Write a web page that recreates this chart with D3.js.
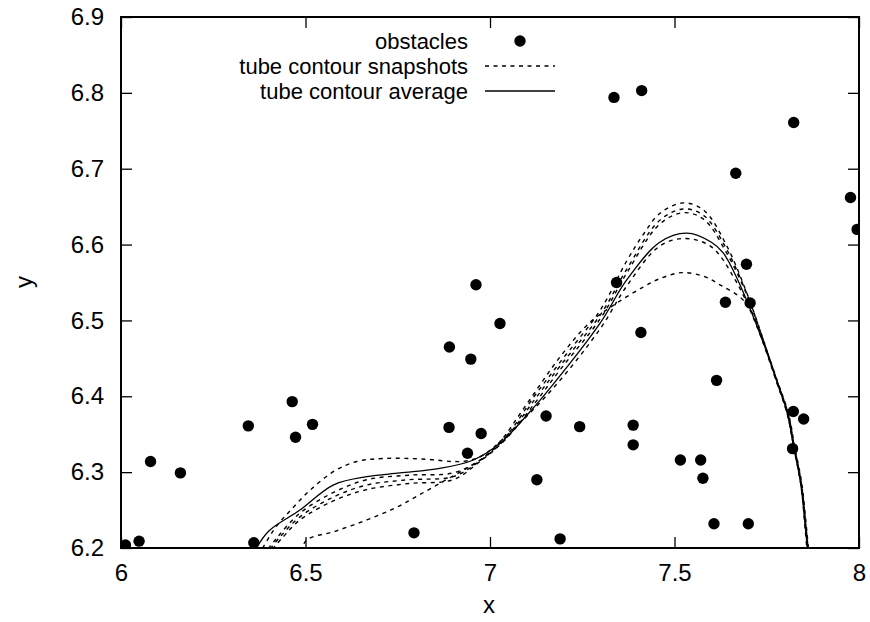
<!DOCTYPE html>
<html>
<head>
<meta charset="utf-8">
<script src="https://cdn.jsdelivr.net/npm/d3@7"></script>
<style>
  body { margin: 0; background: #fff; }
  svg text { font-family: "Liberation Sans", Arial, sans-serif; fill: #000; }
</style>
</head>
<body>
<svg id="chart" width="870" height="622"></svg>
<script>
// obstacles (x, y)
const obstacles = [
  [6.012, 6.204], [6.049, 6.209], [6.080, 6.314], [6.161, 6.299],
  [6.345, 6.361], [6.360, 6.207], [6.464, 6.393], [6.473, 6.346],
  [6.519, 6.363], [6.794, 6.220], [6.889, 6.359], [6.890, 6.465],
  [6.939, 6.325], [6.948, 6.449], [6.962, 6.547], [6.976, 6.351],
  [7.027, 6.496], [7.127, 6.290], [7.152, 6.374], [7.190, 6.212],
  [7.243, 6.360], [7.336, 6.794], [7.343, 6.550], [7.388, 6.362],
  [7.388, 6.336], [7.409, 6.484], [7.411, 6.803], [7.516, 6.316],
  [7.571, 6.316], [7.577, 6.292], [7.607, 6.232], [7.614, 6.421],
  [7.638, 6.524], [7.666, 6.694], [7.695, 6.574], [7.700, 6.232],
  [7.705, 6.523], [7.820, 6.331], [7.822, 6.380], [7.823, 6.761],
  [7.850, 6.370], [7.977, 6.662], [7.995, 6.620]
];

// tube contour snapshots
const snapA = [
  [6.372, 6.19], [6.42, 6.228], [6.46, 6.25], [6.512, 6.276], [6.58, 6.302],
  [6.639, 6.314], [6.711, 6.318], [6.828, 6.317], [6.90, 6.314], [6.94, 6.315],
  [6.98, 6.322], [7.04, 6.346], [7.17, 6.41], [7.30, 6.49], [7.37, 6.545],
  [7.46, 6.598], [7.53, 6.608], [7.60, 6.597], [7.665, 6.553], [7.72, 6.496],
  [7.776, 6.42], [7.806, 6.376], [7.823, 6.333], [7.842, 6.285], [7.857, 6.22],
  [7.864, 6.19]
];
const snapB = [
  [6.385, 6.19], [6.42, 6.212], [6.485, 6.246], [6.575, 6.273], [6.666, 6.290],
  [6.78, 6.296], [6.9, 6.299], [6.97, 6.315], [7.04, 6.345], [7.12, 6.40],
  [7.19, 6.445], [7.298, 6.513], [7.37, 6.578], [7.415, 6.613], [7.46, 6.641],
  [7.524, 6.655], [7.58, 6.645], [7.642, 6.598], [7.696, 6.536], [7.73, 6.49],
  [7.778, 6.42], [7.808, 6.377], [7.825, 6.333], [7.844, 6.285], [7.858, 6.22],
  [7.864, 6.19]
];
const snapC = [
  [6.39, 6.19], [6.43, 6.214], [6.485, 6.241], [6.575, 6.267], [6.666, 6.283],
  [6.78, 6.290], [6.9, 6.294], [6.97, 6.314], [7.04, 6.343], [7.12, 6.395],
  [7.19, 6.44], [7.30, 6.508], [7.37, 6.567], [7.46, 6.632], [7.525, 6.647],
  [7.58, 6.638], [7.64, 6.595], [7.696, 6.535], [7.73, 6.489], [7.777, 6.42],
  [7.807, 6.377], [7.824, 6.333], [7.843, 6.285], [7.857, 6.22], [7.863, 6.19]
];
const snapD = [
  [6.395, 6.19], [6.44, 6.215], [6.485, 6.237], [6.575, 6.262], [6.666, 6.277],
  [6.78, 6.285], [6.9, 6.290], [6.97, 6.313], [7.04, 6.342], [7.12, 6.39],
  [7.19, 6.435], [7.30, 6.503], [7.37, 6.562], [7.46, 6.627], [7.525, 6.642],
  [7.58, 6.633], [7.64, 6.59], [7.696, 6.534], [7.73, 6.488], [7.779, 6.42],
  [7.809, 6.377], [7.826, 6.333], [7.845, 6.285], [7.859, 6.22], [7.865, 6.19]
];
const snapE = [
  [6.488, 6.195], [6.503, 6.2105], [6.58, 6.222], [6.666, 6.237], [6.74, 6.252],
  [6.801, 6.268], [6.87, 6.287], [6.937, 6.305], [6.98, 6.318], [7.027, 6.340],
  [7.10, 6.39], [7.19, 6.452], [7.27, 6.497], [7.344, 6.523], [7.415, 6.544],
  [7.46, 6.555], [7.52, 6.563], [7.58, 6.558], [7.623, 6.547], [7.677, 6.531],
  [7.704, 6.516], [7.73, 6.487], [7.776, 6.42], [7.806, 6.376], [7.824, 6.333],
  [7.842, 6.285], [7.855, 6.22], [7.86, 6.19]
];
const snapshots = [snapA, snapB, snapC, snapD, snapE];

// tube contour average
const average = [
  [6.355, 6.19], [6.40, 6.222], [6.485, 6.25], [6.575, 6.283], [6.666, 6.294],
  [6.756, 6.299], [6.864, 6.305], [6.955, 6.316], [7.027, 6.338], [7.10, 6.375],
  [7.17, 6.415], [7.298, 6.496], [7.37, 6.553], [7.46, 6.603], [7.533, 6.615],
  [7.60, 6.603], [7.632, 6.589], [7.668, 6.557], [7.72, 6.497], [7.777, 6.421],
  [7.806, 6.377], [7.823, 6.333], [7.842, 6.285], [7.856, 6.22], [7.862, 6.19]
];

const xTicks = [6, 6.5, 7, 7.5, 8];
const yTicks = [6.2, 6.3, 6.4, 6.5, 6.6, 6.7, 6.8, 6.9];
const legendLabels = ['obstacles', 'tube contour snapshots', 'tube contour average'];

const plotLeft = 121, plotRight = 859, plotTop = 17, plotBottom = 548;
const tickLen = 11;
const fontSize = 24;
const legendFont = 22;

const svg = d3.select('#chart');
const x = d3.scaleLinear().domain([6, 8]).range([plotLeft, plotRight]);
const y = d3.scaleLinear().domain([6.2, 6.9]).range([plotBottom, plotTop]);

svg.append('defs').append('clipPath').attr('id', 'plot')
  .append('rect')
  .attr('x', plotLeft).attr('y', plotTop)
  .attr('width', plotRight - plotLeft).attr('height', plotBottom - plotTop);

// axes with inward ticks, mirrored on top and right
function styleAxis(g, labels) {
  g.select('.domain').remove();
  g.selectAll('line').attr('stroke', '#000').attr('stroke-width', 1.3);
  g.selectAll('text')
    .style('font-size', fontSize + 'px')
    .attr('fill', '#000');
  if (!labels) g.selectAll('text').remove();
}
svg.append('g')
  .attr('transform', `translate(0,${plotBottom})`)
  .call(d3.axisBottom(x).tickValues(xTicks).tickFormat(d => String(d))
    .tickSizeInner(-tickLen).tickSizeOuter(0).tickPadding(16))
  .call(g => styleAxis(g, true));
svg.append('g')
  .attr('transform', `translate(0,${plotTop})`)
  .call(d3.axisTop(x).tickValues(xTicks).tickSizeInner(-tickLen).tickSizeOuter(0))
  .call(g => styleAxis(g, false));
svg.append('g')
  .attr('transform', `translate(${plotLeft},0)`)
  .call(d3.axisLeft(y).tickValues(yTicks).tickFormat(d => String(d))
    .tickSizeInner(-tickLen).tickSizeOuter(0).tickPadding(17))
  .call(g => styleAxis(g, true));
svg.append('g')
  .attr('transform', `translate(${plotRight},0)`)
  .call(d3.axisRight(y).tickValues(yTicks).tickSizeInner(-tickLen).tickSizeOuter(0))
  .call(g => styleAxis(g, false));

svg.append('rect')
  .attr('x', plotLeft).attr('y', plotTop)
  .attr('width', plotRight - plotLeft).attr('height', plotBottom - plotTop)
  .attr('fill', 'none').attr('stroke', '#000').attr('stroke-width', 2);

// axis titles
svg.append('text')
  .attr('x', 489).attr('y', 605).attr('dy', '0.35em')
  .attr('text-anchor', 'middle').style('font-size', fontSize + 'px')
  .text('x');
svg.append('text')
  .attr('transform', 'translate(24,282) rotate(-90)')
  .attr('dy', '0.35em')
  .attr('text-anchor', 'middle').style('font-size', fontSize + 'px')
  .text('y');

// curves
const line = d3.line()
  .x(d => x(d[0])).y(d => y(d[1]))
  .curve(d3.curveCatmullRom.alpha(0.5));

const plot = svg.append('g').attr('clip-path', 'url(#plot)');
plot.selectAll('path.snap')
  .data(snapshots)
  .join('path')
  .attr('class', 'snap')
  .attr('d', line)
  .attr('fill', 'none').attr('stroke', '#000')
  .attr('stroke-width', 1.4).attr('stroke-dasharray', '4,4.5');
plot.append('path')
  .attr('d', line(average))
  .attr('fill', 'none').attr('stroke', '#000').attr('stroke-width', 1.3);

plot.selectAll('circle')
  .data(obstacles)
  .join('circle')
  .attr('cx', d => x(d[0])).attr('cy', d => y(d[1]))
  .attr('r', 5.7).attr('fill', '#000');

// legend
const legendRows = [41, 66, 91];
const lg = svg.append('g');
lg.selectAll('text')
  .data(legendLabels)
  .join('text')
  .attr('x', 468).attr('y', (d, i) => legendRows[i]).attr('dy', '0.35em')
  .attr('text-anchor', 'end').style('font-size', legendFont + 'px')
  .text(d => d);
lg.append('circle').attr('cx', 520).attr('cy', legendRows[0]).attr('r', 5.7).attr('fill', '#000');
lg.append('line')
  .attr('x1', 485).attr('x2', 555).attr('y1', legendRows[1]).attr('y2', legendRows[1])
  .attr('stroke', '#000').attr('stroke-width', 1.4).attr('stroke-dasharray', '4,4.5');
lg.append('line')
  .attr('x1', 485).attr('x2', 555).attr('y1', legendRows[2]).attr('y2', legendRows[2])
  .attr('stroke', '#000').attr('stroke-width', 1.3);
</script>
</body>
</html>
